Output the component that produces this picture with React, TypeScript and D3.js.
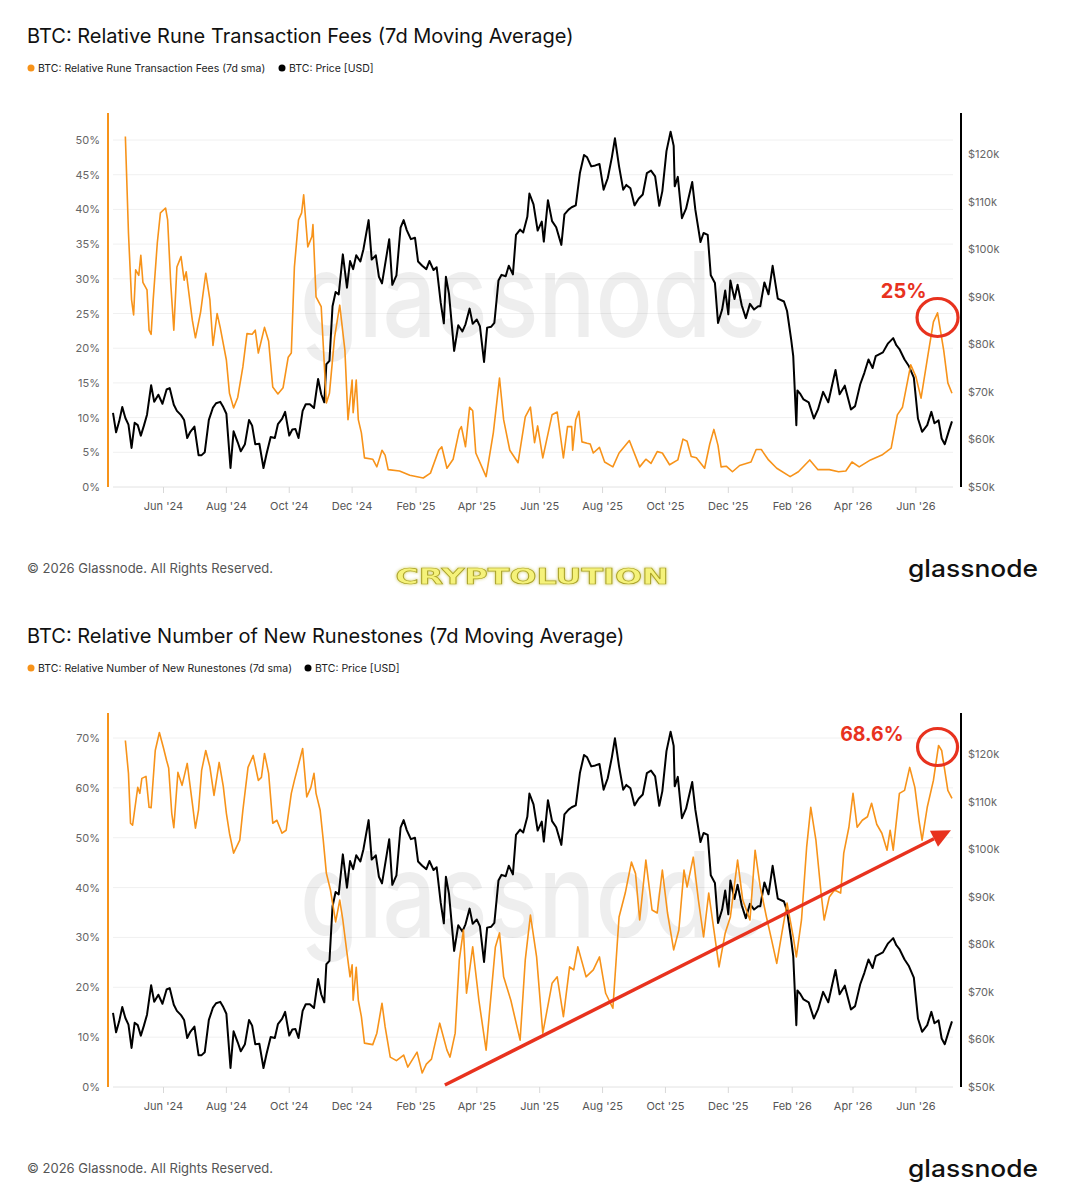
import React, { useEffect } from 'react';
import * as d3 from 'd3';

// BTC price in $k, shared by both panels
const btcPrice: [string, number][] = [
  ["2024-04-13",65.6],["2024-04-16",61.5],["2024-04-19",63.8],["2024-04-22",66.8],["2024-04-25",64.5],["2024-04-28",63.1],
  ["2024-05-01",58.2],["2024-05-04",63.5],["2024-05-07",63.0],["2024-05-10",60.8],["2024-05-13",62.9],["2024-05-16",65.2],
  ["2024-05-20",71.4],["2024-05-23",67.9],["2024-05-27",69.4],["2024-05-31",67.5],["2024-06-04",70.5],["2024-06-07",70.8],
  ["2024-06-11",67.3],["2024-06-14",66.0],["2024-06-18",65.1],["2024-06-21",64.1],["2024-06-24",60.3],["2024-06-27",61.6],
  ["2024-07-01",62.7],["2024-07-05",56.7],["2024-07-08",56.7],["2024-07-11",57.3],["2024-07-15",64.1],["2024-07-19",66.7],
  ["2024-07-22",67.6],["2024-07-26",67.9],["2024-07-29",66.8],["2024-08-01",65.4],["2024-08-05",54.0],["2024-08-08",61.7],
  ["2024-08-12",59.4],["2024-08-15",57.5],["2024-08-19",59.0],["2024-08-23",64.1],["2024-08-26",62.9],["2024-08-29",59.0],
  ["2024-09-02",59.1],["2024-09-06",54.0],["2024-09-09",57.0],["2024-09-13",60.5],["2024-09-17",60.3],["2024-09-20",63.2],
  ["2024-09-24",64.3],["2024-09-27",65.8],["2024-10-01",60.8],["2024-10-04",62.1],["2024-10-07",62.2],["2024-10-10",60.3],
  ["2024-10-14",66.0],["2024-10-17",67.4],["2024-10-21",67.4],["2024-10-25",66.6],["2024-10-29",72.7],["2024-11-01",69.5],
  ["2024-11-04",67.8],["2024-11-06",75.8],["2024-11-09",76.5],["2024-11-12",88.0],["2024-11-15",91.0],["2024-11-18",90.5],
  ["2024-11-22",98.9],["2024-11-26",91.9],["2024-11-29",97.5],["2024-12-02",95.8],["2024-12-05",98.7],["2024-12-09",97.4],
  ["2024-12-12",100.0],["2024-12-17",106.1],["2024-12-20",97.8],["2024-12-24",98.7],["2024-12-27",94.2],["2024-12-30",92.8],
  ["2025-01-03",98.1],["2025-01-06",102.1],["2025-01-09",92.5],["2025-01-13",94.5],["2025-01-17",104.5],["2025-01-20",106.1],
  ["2025-01-23",104.0],["2025-01-27",102.1],["2025-01-31",102.4],["2025-02-03",97.4],["2025-02-07",96.5],["2025-02-11",95.8],
  ["2025-02-14",97.5],["2025-02-18",95.6],["2025-02-21",96.2],["2025-02-25",88.7],["2025-02-28",84.4],["2025-03-02",94.2],
  ["2025-03-05",90.6],["2025-03-10",78.6],["2025-03-14",84.0],["2025-03-18",82.7],["2025-03-21",84.2],["2025-03-25",87.5],
  ["2025-03-28",84.3],["2025-04-01",85.2],["2025-04-04",83.8],["2025-04-08",76.3],["2025-04-11",83.5],["2025-04-15",83.7],
  ["2025-04-18",84.5],["2025-04-22",93.4],["2025-04-25",94.6],["2025-04-29",94.3],["2025-05-02",96.5],["2025-05-06",94.7],
  ["2025-05-09",103.0],["2025-05-13",104.1],["2025-05-16",103.5],["2025-05-20",106.8],["2025-05-22",111.7],["2025-05-26",109.4],
  ["2025-05-30",103.9],["2025-06-03",105.8],["2025-06-05",101.6],["2025-06-09",110.3],["2025-06-13",105.9],["2025-06-17",104.6],
  ["2025-06-22",100.9],["2025-06-25",107.3],["2025-06-29",108.3],["2025-07-02",108.8],["2025-07-06",109.2],["2025-07-10",116.0],
  ["2025-07-14",119.8],["2025-07-17",119.3],["2025-07-21",117.4],["2025-07-25",117.6],["2025-07-29",117.9],["2025-08-02",112.5],
  ["2025-08-06",114.9],["2025-08-10",119.3],["2025-08-13",123.3],["2025-08-17",117.4],["2025-08-21",112.5],["2025-08-24",113.5],
  ["2025-08-28",112.8],["2025-09-01",109.2],["2025-09-05",110.6],["2025-09-09",111.5],["2025-09-13",116.0],["2025-09-17",116.5],
  ["2025-09-21",115.3],["2025-09-25",109.1],["2025-09-28",112.2],["2025-10-02",120.6],["2025-10-06",124.7],["2025-10-09",121.7],
  ["2025-10-10",113.2],["2025-10-13",115.2],["2025-10-17",106.5],["2025-10-21",108.5],["2025-10-27",114.1],["2025-10-30",108.3],
  ["2025-11-04",101.5],["2025-11-07",103.4],["2025-11-11",103.0],["2025-11-14",94.5],["2025-11-18",92.9],["2025-11-21",84.5],
  ["2025-11-25",87.3],["2025-11-28",91.3],["2025-12-01",86.3],["2025-12-03",93.4],["2025-12-07",89.5],["2025-12-10",92.5],
  ["2025-12-14",88.2],["2025-12-18",85.5],["2025-12-22",88.5],["2025-12-26",87.3],["2025-12-30",88.0],["2026-01-01",88.0],
  ["2026-01-05",93.0],["2026-01-09",90.5],["2026-01-13",96.5],["2026-01-18",89.6],["2026-01-24",89.0],["2026-01-27",87.0],
  ["2026-01-31",81.0],["2026-02-02",77.5],["2026-02-05",63.0],["2026-02-06",70.3],["2026-02-09",69.5],["2026-02-12",68.4],
  ["2026-02-17",67.8],["2026-02-22",64.4],["2026-02-26",66.3],["2026-03-03",70.0],["2026-03-08",67.8],["2026-03-15",74.6],
  ["2026-03-19",69.5],["2026-03-24",71.3],["2026-03-30",66.3],["2026-04-03",67.0],["2026-04-08",71.6],["2026-04-12",74.0],
  ["2026-04-16",76.8],["2026-04-20",75.0],["2026-04-23",77.5],["2026-04-30",78.3],["2026-05-05",80.2],["2026-05-10",81.3],
  ["2026-05-13",79.8],["2026-05-16",79.0],["2026-05-21",76.8],["2026-05-25",75.5],["2026-05-30",73.0],["2026-06-03",64.4],
  ["2026-06-07",61.6],["2026-06-12",63.0],["2026-06-16",65.8],["2026-06-19",63.4],["2026-06-23",64.0],["2026-06-26",60.2],
  ["2026-06-29",59.0],["2026-07-03",61.8],["2026-07-06",63.8],
];

// Relative Rune transaction fees (%), 7d sma
const runeFees: [string, number][] = [
  ["2024-04-25",50.5],["2024-04-28",36.6],["2024-05-01",27],["2024-05-03",24.8],["2024-05-05",31.3],["2024-05-08",30.5],
  ["2024-05-10",33.4],["2024-05-12",29.5],["2024-05-16",28.4],["2024-05-18",22.6],["2024-05-20",22],["2024-05-22",27],
  ["2024-05-26",35.2],["2024-05-29",39.5],["2024-06-03",40.2],["2024-06-05",38.5],["2024-06-08",29.4],["2024-06-11",22.6],
  ["2024-06-14",31.7],["2024-06-18",33.2],["2024-06-21",29.8],["2024-06-23",31],["2024-06-29",24],["2024-07-02",21.5],
  ["2024-07-07",25.2],["2024-07-12",30.8],["2024-07-16",27],["2024-07-19",20.4],["2024-07-23",25],["2024-07-26",23],
  ["2024-08-01",18.3],["2024-08-04",13.5],["2024-08-08",11.4],["2024-08-12",12.9],["2024-08-17",17.3],["2024-08-21",22.1],
  ["2024-08-26",22],["2024-08-29",22.6],["2024-09-01",19.3],["2024-09-07",23],["2024-09-11",21],["2024-09-15",14.4],
  ["2024-09-20",13.4],["2024-09-25",14.3],["2024-09-30",18.7],["2024-10-03",19.3],["2024-10-06",31.7],["2024-10-10",38.5],
  ["2024-10-13",39.5],["2024-10-15",42.1],["2024-10-19",34.6],["2024-10-23",36.1],["2024-10-24",37.8],["2024-10-27",27.4],
  ["2024-11-01",26],["2024-11-06",12.1],["2024-11-09",13.5],["2024-11-14",21.6],["2024-11-19",26.2],["2024-11-24",19.7],
  ["2024-11-27",9.7],["2024-12-01",15.4],["2024-12-02",10.7],["2024-12-05",15.4],["2024-12-07",9.7],["2024-12-10",7.8],
  ["2024-12-13",4.2],["2024-12-21",4],["2024-12-25",2.9],["2024-12-30",5.3],["2025-01-02",4.6],["2025-01-05",2.5],
  ["2025-01-16",2.3],["2025-01-26",1.7],["2025-02-08",1.3],["2025-02-15",2],["2025-02-23",5.3],["2025-02-26",5.8],
  ["2025-03-03",2.7],["2025-03-09",4],["2025-03-15",8.2],["2025-03-17",8.7],["2025-03-21",5.8],["2025-03-25",11.5],
  ["2025-03-28",11],["2025-03-31",4.9],["2025-04-10",1.5],["2025-04-17",7.8],["2025-04-23",15.7],["2025-04-27",9.7],
  ["2025-05-03",5.3],["2025-05-11",3.5],["2025-05-18",10.1],["2025-05-23",11.5],["2025-05-27",6.4],["2025-05-30",8.8],
  ["2025-06-04",4.2],["2025-06-13",10.4],["2025-06-18",10.8],["2025-06-24",4.2],["2025-06-28",8.7],["2025-07-02",8.7],
  ["2025-07-03",5.3],["2025-07-06",9.7],["2025-07-09",10.9],["2025-07-12",6.5],["2025-07-17",6.3],["2025-07-20",6.2],
  ["2025-07-23",4.9],["2025-07-29",5.7],["2025-08-03",3.6],["2025-08-11",2.9],["2025-08-17",4.9],["2025-08-27",6.7],
  ["2025-09-06",2.9],["2025-09-12",4],["2025-09-17",3.4],["2025-09-23",5.1],["2025-09-28",4.9],["2025-10-05",3.2],
  ["2025-10-13",3.9],["2025-10-18",6.9],["2025-10-22",6.6],["2025-10-26",4.4],["2025-10-31",4.2],["2025-11-08",2.7],
  ["2025-11-13",6.2],["2025-11-17",8.3],["2025-11-21",6],["2025-11-24",2.9],["2025-11-29",3],["2025-12-05",2.2],
  ["2025-12-12",3.1],["2025-12-23",3.6],["2025-12-28",5.4],["2026-01-02",5.4],["2026-01-09",3.9],["2026-01-17",2.7],
  ["2026-01-30",1.5],["2026-02-07",2.2],["2026-02-18",3.9],["2026-02-26",2.5],["2026-03-09",2.5],["2026-03-18",2.2],
  ["2026-03-25",2.3],["2026-03-31",3.6],["2026-04-07",2.9],["2026-04-18",3.9],["2026-04-29",4.6],["2026-05-08",5.6],
  ["2026-05-14",10.4],["2026-05-19",11.5],["2026-05-27",17.6],["2026-06-01",15.9],["2026-06-06",12.8],["2026-06-13",19.3],
  ["2026-06-18",23.8],["2026-06-22",25.1],["2026-06-28",19.7],["2026-07-02",15],["2026-07-06",13.5],
];

// Relative number of new Runestones (%), 7d sma
const newRunestones: [string, number][] = [
  ["2024-04-25",69.5],["2024-04-28",62.9],["2024-04-30",52.9],["2024-05-02",52.5],["2024-05-07",60.1],["2024-05-09",58.9],
  ["2024-05-11",61.9],["2024-05-15",62.3],["2024-05-18",56.1],["2024-05-20",56],["2024-05-24",67.5],["2024-05-28",71.1],
  ["2024-06-01",68],["2024-06-04",65.5],["2024-06-06",64],["2024-06-09",54.9],["2024-06-11",52],["2024-06-15",63.1],
  ["2024-06-19",60.5],["2024-06-24",64.9],["2024-06-29",56.9],["2024-07-02",51.9],["2024-07-05",55.6],["2024-07-08",63.5],
  ["2024-07-12",67.5],["2024-07-16",64.2],["2024-07-20",58.5],["2024-07-25",65.1],["2024-07-29",60.3],["2024-08-01",54.9],
  ["2024-08-04",50.9],["2024-08-08",46.9],["2024-08-11",48.2],["2024-08-14",49.5],["2024-08-17",55.5],["2024-08-22",64.1],
  ["2024-08-27",66.5],["2024-09-01",61.5],["2024-09-04",62.1],["2024-09-07",66.9],["2024-09-11",62.9],["2024-09-15",52.9],
  ["2024-09-19",53.5],["2024-09-24",50.9],["2024-09-28",51.5],["2024-10-03",58.9],["2024-10-06",61.5],["2024-10-11",65.5],
  ["2024-10-14",67.9],["2024-10-18",58.2],["2024-10-22",60.1],["2024-10-25",62.9],["2024-10-27",58.9],["2024-10-31",55.5],
  ["2024-11-03",49.5],["2024-11-06",42.9],["2024-11-10",39.5],["2024-11-15",33.1],["2024-11-19",37.5],["2024-11-22",33.5],
  ["2024-11-26",26.9],["2024-11-29",22.1],["2024-12-01",24.5],["2024-12-02",17.4],["2024-12-05",24],["2024-12-07",17.4],
  ["2024-12-10",14.1],["2024-12-13",8.8],["2024-12-21",8.5],["2024-12-25",10.8],["2024-12-30",16.8],["2025-01-02",12.1],
  ["2025-01-07",6],["2025-01-13",5.3],["2025-01-20",6.4],["2025-01-24",4],["2025-02-02",7],["2025-02-07",2.8],
  ["2025-02-11",4.6],["2025-02-16",5.6],["2025-02-24",12.8],["2025-03-03",7.4],["2025-03-06",6],["2025-03-11",10.8],
  ["2025-03-15",25.5],["2025-03-19",31.5],["2025-03-22",18.8],["2025-03-28",28.1],["2025-04-03",17.4],["2025-04-10",7.4],
  ["2025-04-19",28.1],["2025-04-23",30.9],["2025-04-27",22.1],["2025-05-04",17.4],["2025-05-13",9.4],["2025-05-18",25.5],
  ["2025-05-23",34.5],["2025-05-29",26.1],["2025-06-04",10.8],["2025-06-13",20.8],["2025-06-18",22.1],["2025-06-24",14.1],
  ["2025-06-30",24.1],["2025-07-04",23.5],["2025-07-08",28.1],["2025-07-16",22.1],["2025-07-23",23.5],["2025-07-29",26.1],
  ["2025-08-04",18.8],["2025-08-11",15.8],["2025-08-17",34.1],["2025-08-23",38.9],["2025-08-29",45.1],["2025-09-02",42.8],
  ["2025-09-06",33.5],["2025-09-12",45.5],["2025-09-18",35.5],["2025-09-23",34.9],["2025-09-28",43.5],["2025-10-03",34.9],
  ["2025-10-09",27.5],["2025-10-14",31.5],["2025-10-19",43.5],["2025-10-22",40.1],["2025-10-28",46.1],["2025-11-02",37.5],
  ["2025-11-07",30.1],["2025-11-12",38.9],["2025-11-17",31.5],["2025-11-22",24.1],["2025-11-28",30.9],["2025-12-03",34.1],
  ["2025-12-10",45.5],["2025-12-15",37.5],["2025-12-22",33.5],["2025-12-27",47.5],["2026-01-01",40.1],["2026-01-07",34.1],
  ["2026-01-12",29.5],["2026-01-17",24.8],["2026-01-22",30.9],["2026-01-27",36.9],["2026-02-02",30.1],["2026-02-05",26.1],
  ["2026-02-10",33.5],["2026-02-15",48.1],["2026-02-19",56.1],["2026-02-24",49.5],["2026-03-01",38.9],["2026-03-04",33.5],
  ["2026-03-09",38.1],["2026-03-14",39.5],["2026-03-20",38.9],["2026-03-23",46.9],["2026-03-28",52.1],["2026-04-01",58.9],
  ["2026-04-05",52.1],["2026-04-10",53.5],["2026-04-15",54.2],["2026-04-19",56.9],["2026-04-24",52.7],["2026-04-29",50.9],
  ["2026-05-04",47.5],["2026-05-07",51.5],["2026-05-10",47.5],["2026-05-16",58.9],["2026-05-21",59.5],["2026-05-26",64.1],
  ["2026-05-31",60.1],["2026-06-04",53.5],["2026-06-07",49.5],["2026-06-12",56.1],["2026-06-18",61.5],["2026-06-23",68.5],
  ["2026-06-26",67.5],["2026-07-02",59.5],["2026-07-06",57.9],
];

const xTicks = ["2024-06-01","2024-08-01","2024-10-01","2024-12-01","2025-02-01","2025-04-01","2025-06-01","2025-08-01","2025-10-01","2025-12-01","2026-02-01","2026-04-01","2026-06-01"];
const feeTicks = [0, 5, 10, 15, 20, 25, 30, 35, 40, 45, 50];
const runestoneTicks = [0, 10, 20, 30, 40, 50, 60, 70];
const priceTicks = [50, 60, 70, 80, 90, 100, 110, 120];

const parse = d3.timeParse('%Y-%m-%d');
const FONT = 'Inter, "Noto Sans", sans-serif';
const ORANGE = '#f7931a';
const RED = '#e8321e';

const x = d3.scaleTime()
  .domain([parse('2024-04-13') as Date, parse('2026-07-07') as Date])
  .range([113, 953]);
const yPrice = d3.scaleLinear().domain([50, 120]).range([487, 154]);

const fmtMonth = d3.timeFormat("%b '%y");

interface PanelProps {
  index: number;
  title: string;
  legend: string;
  legend2X: number;
  series: [string, number][];
  ticks: number[];
  yMax: number;
  yMaxPx: number;
  children?: (y: d3.ScaleLinear<number, number>) => React.ReactNode;
}

const Panel: React.FC<PanelProps> = ({ index, title, legend, legend2X, series, ticks, yMax, yMaxPx, children }) => {
  const y = d3.scaleLinear().domain([0, yMax]).range([487, yMaxPx]);
  const lineMetric = d3.line<[string, number]>()
    .x(d => x(parse(d[0]) as Date))
    .y(d => y(d[1]));
  const linePrice = d3.line<[string, number]>()
    .x(d => x(parse(d[0]) as Date))
    .y(d => yPrice(d[1]));

  return (
    <g transform={`translate(0, ${index * 600})`}>
      <text x={27} y={43} fontSize={20} fill="#111" fontFamily={FONT}>{title}</text>

      <circle cx={31} cy={68} r={3.5} fill={ORANGE} />
      <text x={38} y={72} fontSize={10.5} fill="#222" fontFamily={FONT}>{legend}</text>
      <circle cx={legend2X} cy={68} r={3.5} fill="#000" />
      <text x={legend2X + 7} y={72} fontSize={10.5} fill="#222" fontFamily={FONT}>BTC: Price [USD]</text>

      {/* grid */}
      {ticks.map(t => (
        <line key={t} x1={113} x2={953} y1={y(t)} y2={y(t)} stroke={t === 0 ? '#e2e2e2' : '#f0f0f0'} strokeWidth={1} />
      ))}

      {/* watermark */}
      <text x={300} y={337} fontSize={118} fontWeight={500} fill="#000" fillOpacity={0.065}
        fontFamily={FONT} textLength={467} lengthAdjust="spacingAndGlyphs">glassnode</text>

      {/* left axis */}
      <line x1={108} x2={108} y1={113} y2={487} stroke={ORANGE} strokeWidth={2} />
      {ticks.map(t => (
        <text key={t} x={100} y={y(t) + 4} textAnchor="end" fontSize={11} fill="#666" fontFamily={FONT}>{t}%</text>
      ))}

      {/* right axis */}
      <line x1={961} x2={961} y1={113} y2={487} stroke="#000" strokeWidth={2} />
      {priceTicks.map(t => (
        <text key={t} x={968} y={yPrice(t) + 4} fontSize={11} fill="#666" fontFamily={FONT}>${t}k</text>
      ))}

      {/* x axis */}
      {xTicks.map(t => {
        const d = parse(t) as Date;
        return (
          <g key={t}>
            <line x1={x(d)} x2={x(d)} y1={487} y2={493} stroke="#d8d8d8" />
            <text x={x(d)} y={510} textAnchor="middle" fontSize={11} fill="#555" fontFamily={FONT}>{fmtMonth(d)}</text>
          </g>
        );
      })}

      <path d={linePrice(btcPrice) || ''} fill="none" stroke="#000" strokeWidth={2} strokeLinejoin="round" />
      <path d={lineMetric(series) || ''} fill="none" stroke={ORANGE} strokeWidth={1.6} strokeLinejoin="round" />

      {children && children(y)}

      {/* footer */}
      <text x={27} y={573} fontSize={13} fill="#555" fontFamily={FONT}>© 2026 Glassnode. All Rights Reserved.</text>
      <text x={908} y={577} fontSize={24} fontWeight={500} fill="#111" fontFamily={FONT}
        textLength={130} lengthAdjust="spacingAndGlyphs">glassnode</text>
    </g>
  );
};

// annotation anchors (data space)
const feePeak: [string, number] = ["2026-06-22", 25];
const runestonePeak: [string, number] = ["2026-06-22", 68.6];
const trendStart: [string, number] = ["2025-03-01", 0.4];
const trendEnd: [string, number] = ["2026-07-05", 51.5];

export default function App() {
  useEffect(() => {
    document.body.style.margin = '0';
  }, []);

  return (
    <svg width={1067} height={1200} viewBox="0 0 1067 1200" style={{ display: 'block', background: '#fff' }}>
      <defs>
        <filter id="glow" x="-10%" y="-50%" width="120%" height="200%">
          <feGaussianBlur stdDeviation="1.4" result="b" />
          <feMerge>
            <feMergeNode in="b" />
            <feMergeNode in="SourceGraphic" />
          </feMerge>
        </filter>
      </defs>
      <rect width={1067} height={1200} fill="#fff" />

      <Panel index={0} title="BTC: Relative Rune Transaction Fees (7d Moving Average)"
        legend="BTC: Relative Rune Transaction Fees (7d sma)" legend2X={282}
        series={runeFees} ticks={feeTicks} yMax={50} yMaxPx={140}>
        {y => {
          const cx = x(parse(feePeak[0]) as Date);
          const cy = y(feePeak[1]) + 4;
          return (
            <g>
              <ellipse cx={cx} cy={cy} rx={20.5} ry={19} fill="none" stroke={RED} strokeWidth={3.2} />
              <text x={cx - 11} y={cy - 20} textAnchor="end" fontSize={20} fontWeight={700} fill={RED} fontFamily={FONT}>25%</text>
            </g>
          );
        }}
      </Panel>

      <Panel index={1} title="BTC: Relative Number of New Runestones (7d Moving Average)"
        legend="BTC: Relative Number of New Runestones (7d sma)" legend2X={308}
        series={newRunestones} ticks={runestoneTicks} yMax={70} yMaxPx={138}>
        {y => {
          const cx = x(parse(runestonePeak[0]) as Date);
          const cy = y(runestonePeak[1]) + 2;
          const x0 = x(parse(trendStart[0]) as Date), y0 = y(trendStart[1]);
          const x1 = x(parse(trendEnd[0]) as Date), y1 = y(trendEnd[1]);
          const ang = Math.atan2(y1 - y0, x1 - x0);
          const headLen = 19, headW = 9;
          const bx = x1 - headLen * Math.cos(ang), by = y1 - headLen * Math.sin(ang);
          const px = -Math.sin(ang) * headW, py = Math.cos(ang) * headW;
          return (
            <g>
              <line x1={x0} y1={y0} x2={bx} y2={by} stroke={RED} strokeWidth={3.5} />
              <polygon points={`${x1},${y1} ${bx + px},${by + py} ${bx - px},${by - py}`} fill={RED} />
              <ellipse cx={cx} cy={cy} rx={20} ry={18.5} fill="none" stroke={RED} strokeWidth={3.2} />
              <text x={cx - 34} y={cy - 6} textAnchor="end" fontSize={19.5} fontWeight={700} fill={RED} fontFamily={FONT}>68.6%</text>
            </g>
          );
        }}
      </Panel>

      <text x={532} y={584} textAnchor="middle" fontSize={22} fontWeight={700}
        fontFamily='"DejaVu Sans", sans-serif' fill="#f5f27a" stroke="#a9a128" strokeWidth={0.7}
        textLength={273} lengthAdjust="spacingAndGlyphs" filter="url(#glow)">CRYPTOLUTION</text>
    </svg>
  );
}
